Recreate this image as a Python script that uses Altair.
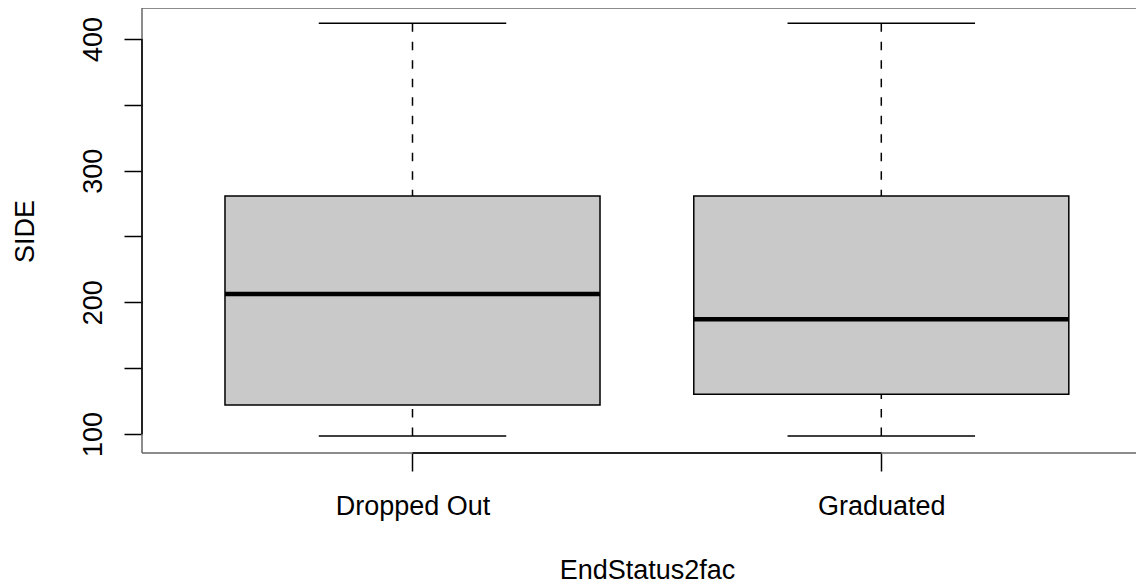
import altair as alt
import pandas as pd

# ---- data ----
categories = ["Dropped Out", "Graduated"]
whisker_low = [98.5, 98.5]
q1 = [122.0, 130.2]
median = [206.3, 187.1]
q3 = [280.8, 280.8]
whisker_high = [411.9, 411.9]

y_tick_values = [100, 150, 200, 250, 300, 350, 400]
x_title = "EndStatus2fac"
y_title = "SIDE"

# ---- layout / style constants ----
PLOT_W = 994
XDOM = [0.423, 0.423 + PLOT_W / 468.8]
YDOM = [85.6, 423.5]
BOXWEX = 0.8
STAPLEWEX = 0.4
FONT = "Liberation Sans"
FS = 27

n = len(categories)
pos = list(range(1, n + 1))
df = pd.DataFrame({
    "cat": categories,
    "pos": pos,
    "lo": whisker_low,
    "q1": q1,
    "med": median,
    "q3": q3,
    "hi": whisker_high,
})
df["bx1"] = df["pos"] - BOXWEX / 2
df["bx2"] = df["pos"] + BOXWEX / 2
df["cx1"] = df["pos"] - STAPLEWEX / 2
df["cx2"] = df["pos"] + STAPLEWEX / 2

label_expr = " : ".join(
    f"datum.value == {p} ? '{c}'" for p, c in zip(pos, categories)
) + " : ''"

xscale = alt.Scale(domain=XDOM, nice=False, zero=False)
yscale = alt.Scale(domain=YDOM, nice=False, zero=False)

xaxis = alt.Axis(
    values=pos, labelExpr=label_expr, title=x_title, grid=False, domain=False,
    tickSize=18, tickColor="black", tickWidth=1.5,
    labelFont=FONT, labelFontSize=FS, labelColor="black",
    labelBaseline="alphabetic", labelPadding=43, labelAlign="center",
    titleFont=FONT, titleFontSize=FS, titleColor="black", titleFontWeight="normal",
    titleX=505, titleY=125, titleBaseline="alphabetic", titleAlign="center",
    labelFlush=False, labelOverlap=False,
)
yaxis = alt.Axis(
    values=y_tick_values,
    labelExpr="datum.value % 100 == 0 ? datum.label : ''",
    title=y_title, grid=False, domain=False,
    tickSize=18, tickColor="black", tickWidth=1.5,
    labelFont=FONT, labelFontSize=FS, labelColor="black",
    labelAngle=270, labelAlign="center", labelBaseline="alphabetic", labelPadding=23,
    titleFont=FONT, titleFontSize=FS, titleColor="black", titleFontWeight="normal",
    titleAngle=270, titleX=-109, titleY=223, titleBaseline="alphabetic", titleAlign="center",
    labelFlush=False, labelOverlap=False,
)


def X(field):
    return alt.X(field, type="quantitative", scale=xscale, axis=xaxis)


def Y(field):
    return alt.Y(field, type="quantitative", scale=yscale, axis=yaxis)


base = alt.Chart(df)
DASH = [8.5, 10]

# frame (top, bottom, left); the right side lies beyond the picture
frame_h = pd.DataFrame({"x": [XDOM[0], XDOM[0]], "x2": [XDOM[1], XDOM[1]], "y": [YDOM[0], YDOM[1]]})
frame_v = pd.DataFrame({"x": [XDOM[0]], "y": [YDOM[0]], "y2": [YDOM[1]]})
frame_top_bottom = alt.Chart(frame_h).mark_rule(color="#666666", strokeWidth=1.5).encode(
    x=X("x"), x2="x2", y=Y("y"))
frame_left = alt.Chart(frame_v).mark_rule(color="#666666", strokeWidth=1.5).encode(
    x=X("x"), y=Y("y"), y2="y2")

upper_whisker = base.mark_rule(color="black", strokeWidth=1.5, strokeDash=DASH).encode(
    x=X("pos"), y=Y("hi"), y2="q3")
lower_whisker = base.mark_rule(color="black", strokeWidth=1.5, strokeDash=DASH).encode(
    x=X("pos"), y=Y("lo"), y2="q1")
cap_hi = base.mark_rule(color="black", strokeWidth=1.5).encode(
    x=X("cx1"), x2="cx2", y=Y("hi"))
cap_lo = base.mark_rule(color="black", strokeWidth=1.5).encode(
    x=X("cx1"), x2="cx2", y=Y("lo"))
box = base.mark_rect(fill="#c9c9c9", stroke="black", strokeWidth=1.5).encode(
    x=X("bx1"), x2="bx2", y=Y("q1"), y2="q3")
med = base.mark_rule(color="black", strokeWidth=4.5).encode(
    x=X("bx1"), x2="bx2", y=Y("med"))

# axis lines (from first to last tick), drawn over the frame
xline_df = pd.DataFrame({"a": [pos[0]], "b": [pos[-1]], "y": [YDOM[0]]})
yline_df = pd.DataFrame({"x": [XDOM[0]], "a": [y_tick_values[0]], "b": [y_tick_values[-1]]})
xline = alt.Chart(xline_df).mark_rule(color="black", strokeWidth=1.5).encode(
    x=X("a"), x2="b", y=Y("y"))
yline = alt.Chart(yline_df).mark_rule(color="black", strokeWidth=1.5).encode(
    x=X("x"), y=Y("a"), y2="b")

chart = alt.layer(
    frame_top_bottom, frame_left,
    upper_whisker, lower_whisker, cap_hi, cap_lo, box, med, xline, yline
).properties(
    width=PLOT_W, height=445,
    autosize=alt.AutoSizeParams(type="none"),
    padding={"left": 134, "top": 0, "right": 0, "bottom": 127},
    background="white",
).configure_view(strokeWidth=0)

chart.save("out.html", embed_options={"renderer": "svg", "actions": False})
